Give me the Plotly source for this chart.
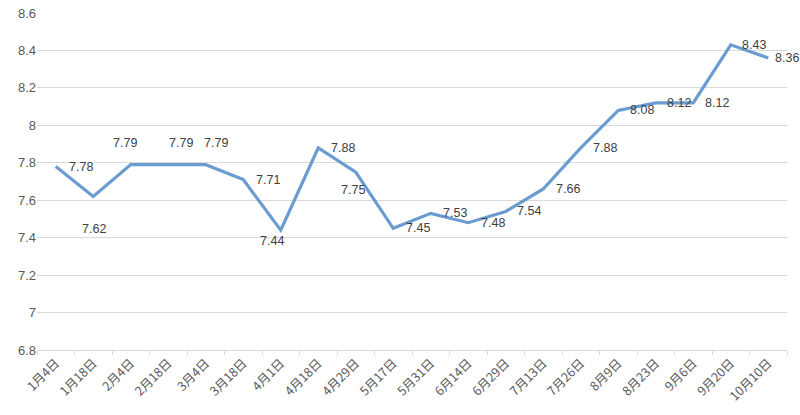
import plotly.graph_objects as go

dates = ["1月4日", "1月18日", "2月4日", "2月18日", "3月4日", "3月18日", "4月1日",
         "4月18日", "4月29日", "5月17日", "5月31日", "6月14日", "6月29日", "7月13日",
         "7月26日", "8月9日", "8月23日", "9月6日", "9月20日", "10月10日"]
values = [7.78, 7.62, 7.79, 7.79, 7.79, 7.71, 7.44, 7.88, 7.75, 7.45,
          7.53, 7.48, 7.54, 7.66, 7.88, 8.08, 8.12, 8.12, 8.43, 8.36]

# label offsets in pixels (style only)
label_dx = [25, 1, -6, 13, 10, 25, -9, 25, -3, 25, 24, 25, 23, 25, 24, 24, 23, 24, 23, 19]
label_dy = [0, -33, 22, 22, 22, 0, -11, 0, -18, 0, 0, 0, 0, 0, 0, 0, 0, 0, 0, 0]

fig = go.Figure()
fig.add_trace(go.Scatter(
    x=dates, y=values, mode="lines",
    line=dict(color="#6a9bd1", width=3.2),
    hoverinfo="x+y", showlegend=False,
))

for d, v, dx, dy in zip(dates, values, label_dx, label_dy):
    fig.add_annotation(
        x=d, y=v, xref="x", yref="y", text=f"{v:.2f}", showarrow=False,
        xshift=dx, yshift=dy,
        font=dict(family="Liberation Sans, Arial, sans-serif", size=12.5, color="#404040"),
    )

fig.update_layout(
    width=800, height=415,
    margin=dict(l=37, r=13, t=13, b=65),
    paper_bgcolor="white", plot_bgcolor="white",
    xaxis=dict(
        type="category", tickangle=-45, range=[-0.5, len(dates) - 0.5],
        tickson="boundaries", ticks="outside", ticklen=4, tickcolor="#d9d9d9",
        showline=True, linecolor="#d9d9d9", linewidth=1,
        showgrid=False, automargin=False,
        tickfont=dict(family="Noto Sans CJK SC, sans-serif", size=12.5, color="#595959"),
    ),
    yaxis=dict(
        range=[6.8, 8.6], dtick=0.2, tick0=6.8,
        showgrid=True, gridcolor="#d9d9d9", gridwidth=1,
        zeroline=False, showline=False, ticks="", automargin=False,
        tickfont=dict(family="Liberation Sans, Arial, sans-serif", size=13, color="#595959"),
    ),
)

fig.write_html("out.html")
